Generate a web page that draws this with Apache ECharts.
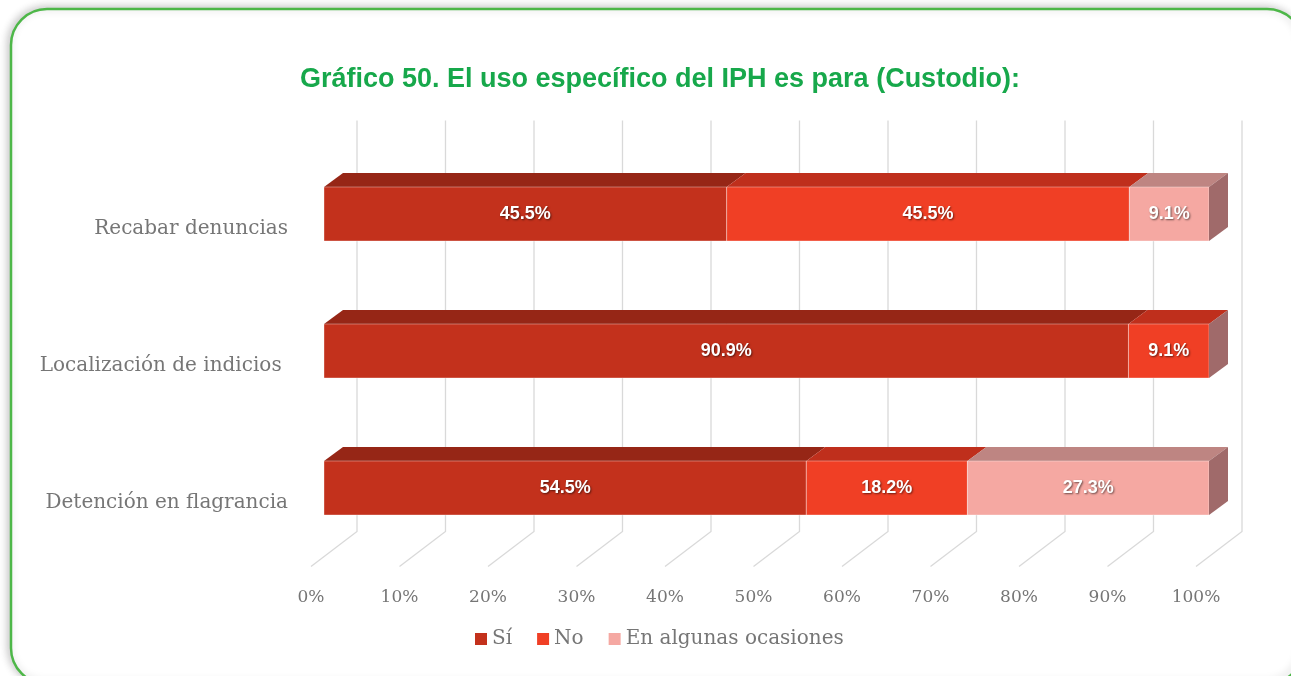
<!DOCTYPE html>
<html>
<head>
<meta charset="utf-8">
<script src="https://cdn.jsdelivr.net/npm/echarts@6/dist/echarts.min.js"></script>
<style>
  html, body { margin: 0; padding: 0; background: #ffffff; }
  #chart { width: 1291px; height: 676px; }
</style>
</head>
<body>
<div id="chart"></div>
<script>
// Categories, top to bottom
const categories = ['Recabar denuncias', 'Localización de indicios ', 'Detención en flagrancia'];
// Percentages per answer
const siValues = [45.5, 90.9, 54.5];
const noValues = [45.5, 9.1, 18.2];
const algunasValues = [9.1, 0, 27.3];
const seriesNames = ['Sí', 'No', 'En algunas ocasiones'];
// Value axis ticks
const tickValues = [0, 10, 20, 30, 40, 50, 60, 70, 80, 90, 100];
const tickLabels = ['0%', '10%', '20%', '30%', '40%', '50%', '60%', '70%', '80%', '90%', '100%'];

// Face colours: front, top, side
const palette = [
  { front: '#C3311C', top: '#962616', side: '#A06A6A' },
  { front: '#F03F25', top: '#BF2F1C', side: '#A06A6A' },
  { front: '#F5A8A2', top: '#BE8582', side: '#A06A6A' }
];

const serifFont = '"DejaVu Serif", "Liberation Serif", serif';
const labelGrey = '#767676';

// depth of the bars and of the back wall (pixel offsets of the 3D projection)
const BAR_DX = 19, BAR_DY = 14;
const WALL_DX = 33, WALL_DY = 25;
const FLOOR_DX = -13, FLOOR_DY = 10;

const valueSets = [siValues, noValues, algunasValues];

function segmentData(k) {
  const rows = [];
  categories.forEach(function (c, i) {
    let start = 0;
    for (let j = 0; j < k; j++) start += valueSets[j][i];
    const v = valueSets[k][i];
    let total = 0;
    for (let j = 0; j < valueSets.length; j++) total += valueSets[j][i];
    const isLast = start + v >= total - 1e-9;
    rows.push([i, start, v, isLast ? 1 : 0]);
  });
  return rows;
}

function makeBarRenderer(k) {
  const col = palette[k];
  return function (params, api) {
    const cat = api.value(0);
    const start = api.value(1);
    const val = api.value(2);
    const isLast = api.value(3) === 1;
    if (!val) return null;
    const p0 = api.coord([start, cat]);
    const p1 = api.coord([Math.min(start + val, 100), cat]);
    const band = Math.abs(api.size([0, 1])[1]);
    const h = band * 0.394;
    const x0 = p0[0], x1 = p1[0];
    const yT = p0[1] - h / 2, yB = p0[1] + h / 2;
    const children = [
      {
        type: 'polygon',
        shape: { points: [[x0, yT], [x1, yT], [x1 + BAR_DX, yT - BAR_DY], [x0 + BAR_DX, yT - BAR_DY]] },
        style: { fill: col.top }
      },
      {
        type: 'rect',
        shape: { x: x0, y: yT, width: x1 - x0, height: h },
        style: { fill: col.front, stroke: 'rgba(255,255,255,0.35)', lineWidth: 1 }
      }
    ];
    if (isLast) {
      children.push({
        type: 'polygon',
        shape: { points: [[x1, yT], [x1 + BAR_DX, yT - BAR_DY], [x1 + BAR_DX, yB - BAR_DY], [x1, yB]] },
        style: { fill: col.side }
      });
    }
    children.push({
      type: 'text',
      x: (x0 + x1) / 2,
      y: p0[1],
      style: {
        text: val.toFixed(1) + '%',
        align: 'center',
        verticalAlign: 'middle',
        fill: '#ffffff',
        font: 'bold 18px "Liberation Sans", Arial, sans-serif',
        textShadowColor: 'rgba(0,0,0,0.55)',
        textShadowBlur: 2,
        textShadowOffsetX: 1,
        textShadowOffsetY: 1
      }
    });
    return { type: 'group', children: children };
  };
}

function renderGrid(params, api) {
  const v = api.value(0);
  const cs = params.coordSys;
  const x = api.coord([v, 0])[0];
  const backTop = cs.y - WALL_DY;
  const backBottom = cs.y + cs.height - WALL_DY;
  return {
    type: 'polyline',
    shape: {
      points: [
        [x + WALL_DX, backTop],
        [x + WALL_DX, backBottom],
        [x + FLOOR_DX, backBottom + (WALL_DY + FLOOR_DY)]
      ]
    },
    style: { stroke: '#D9D9D9', lineWidth: 1.3, fill: null }
  };
}

const chart = echarts.init(document.getElementById('chart'), null, { renderer: 'canvas' });

const barSeries = seriesNames.map(function (name, k) {
  return {
    type: 'custom',
    name: name,
    xAxisIndex: 0,
    yAxisIndex: 0,
    z: 3,
    clip: false,
    itemStyle: { color: palette[k].front },
    encode: { x: [1, 2], y: 0 },
    data: segmentData(k),
    renderItem: makeBarRenderer(k)
  };
});

chart.setOption({
  animation: false,
  backgroundColor: '#ffffff',
  title: {
    text: 'Gráfico 50. El uso específico del IPH es para (Custodio):',
    left: 655,
    top: 61,
    textAlign: 'center',
    textStyle: {
      color: '#17A84B',
      fontFamily: '"Liberation Sans", Arial, sans-serif',
      fontWeight: 'bold',
      fontSize: 27
    }
  },
  graphic: [
    {
      type: 'rect',
      z: -10,
      shape: { x: 11, y: 9, width: 1292, height: 675, r: 36 },
      style: {
        fill: '#ffffff',
        stroke: '#4DB748',
        lineWidth: 2.5,
        shadowColor: 'rgba(0,0,0,0.22)',
        shadowBlur: 8,
        shadowOffsetX: -2,
        shadowOffsetY: -1
      }
    }
  ],
  legend: {
    data: seriesNames,
    left: 470,
    top: 624,
    icon: 'rect',
    itemWidth: 12,
    itemHeight: 12,
    itemGap: 25,
    selectedMode: false,
    textStyle: { color: labelGrey, fontFamily: serifFont, fontSize: 20 }
  },
  grid: [
    { left: 324, right: 82, top: 145.5, bottom: 119.5, containLabel: false },
    { left: 311, right: 95, top: 145.5, bottom: 97, containLabel: false }
  ],
  xAxis: [
    {
      type: 'value', gridIndex: 0, min: 0, max: 100, interval: 10,
      axisLine: { show: false }, axisTick: { show: false },
      axisLabel: { show: false }, splitLine: { show: false }
    },
    {
      type: 'value', gridIndex: 1, min: 0, max: 100, interval: 10,
      axisLine: { show: false }, axisTick: { show: false }, splitLine: { show: false },
      axisLabel: {
        margin: 10,
        color: labelGrey,
        fontFamily: serifFont,
        fontSize: 17,
        formatter: function (v) { return tickLabels[tickValues.indexOf(v)]; }
      }
    }
  ],
  yAxis: [
    {
      type: 'category', gridIndex: 0, data: categories, inverse: true,
      axisLine: { show: false }, axisTick: { show: false }, splitLine: { show: false },
      axisLabel: {
        margin: 36,
        color: labelGrey,
        fontFamily: serifFont,
        fontSize: 20,
        verticalAlign: 'top',
        padding: [5, 0, 0, 0]
      }
    },
    {
      type: 'value', gridIndex: 1, show: false
    }
  ],
  series: [
    {
      type: 'custom',
      name: 'grid',
      xAxisIndex: 0,
      yAxisIndex: 0,
      z: 1,
      clip: false,
      silent: true,
      itemStyle: { color: '#D9D9D9' },
      encode: { x: 0 },
      data: tickValues.map(function (t) { return [t]; }),
      renderItem: renderGrid
    }
  ].concat(barSeries)
});
</script>
</body>
</html>
